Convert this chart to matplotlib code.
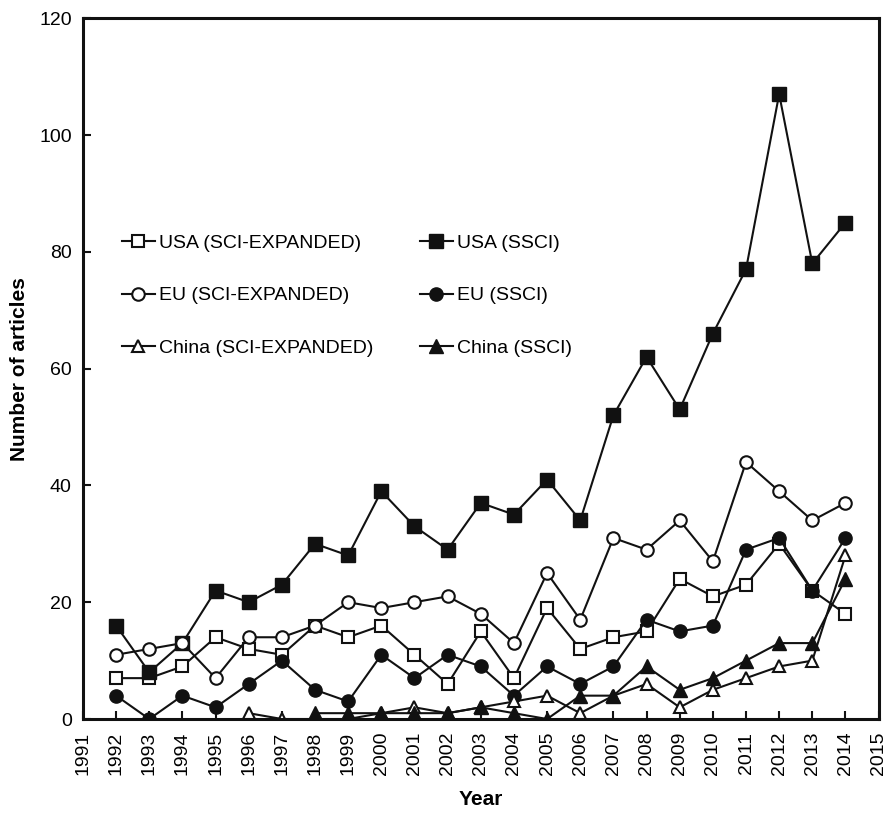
import matplotlib
matplotlib.use("Agg")
import matplotlib.pyplot as plt

plt.rcParams['font.family'] = ['Liberation Sans', 'DejaVu Sans']

years = list(range(1992, 2015))
usa_sci = [7, 7, 9, 14, 12, 11, 16, 14, 16, 11, 6, 15, 7, 19, 12, 14, 15, 24, 21, 23, 30, 22, 18]
usa_ssci = [16, 8, 13, 22, 20, 23, 30, 28, 39, 33, 29, 37, 35, 41, 34, 52, 62, 53, 66, 77, 107, 78, 85]
eu_sci = [11, 12, 13, 7, 14, 14, 16, 20, 19, 20, 21, 18, 13, 25, 17, 31, 29, 34, 27, 44, 39, 34, 37]
eu_ssci = [4, 0, 4, 2, 6, 10, 5, 3, 11, 7, 11, 9, 4, 9, 6, 9, 17, 15, 16, 29, 31, 22, 31]
china_sci_years = list(range(1996, 2015))
china_sci = [1, 0, 0, 0, 1, 2, 1, 2, 3, 4, 1, 4, 6, 2, 5, 7, 9, 10, 28]
china_ssci_years = list(range(1998, 2015))
china_ssci = [1, 1, 1, 1, 1, 2, 1, 0, 4, 4, 9, 5, 7, 10, 13, 13, 24]

fig = plt.figure(figsize=(8.92, 8.13), dpi=100)
ax = fig.add_axes([0.093, 0.1156, 0.892, 0.862])

k = '#111111'
lw = 1.5
h1, = ax.plot(years, usa_sci, '-s', color=k, mfc='white', mec=k, mew=1.5, lw=lw, ms=9, label='USA (SCI-EXPANDED)')
h2, = ax.plot(years, usa_ssci, '-s', color=k, mfc=k, mec=k, lw=lw, ms=9.5, label='USA (SSCI)')
h3, = ax.plot(years, eu_sci, '-o', color=k, mfc='white', mec=k, mew=1.5, lw=lw, ms=9, label='EU (SCI-EXPANDED)')
h4, = ax.plot(years, eu_ssci, '-o', color=k, mfc=k, mec=k, lw=lw, ms=9.5, label='EU (SSCI)')
h5, = ax.plot(china_sci_years, china_sci, '-^', color=k, mfc='white', mec=k, mew=1.5, lw=lw, ms=9, label='China (SCI-EXPANDED)')
h6, = ax.plot(china_ssci_years, china_ssci, '-^', color=k, mfc=k, mec=k, lw=lw, ms=9.5, label='China (SSCI)')

ax.set_xlim(1991, 2015)
ax.set_ylim(0, 120)
ax.set_xticks(range(1991, 2016))
ax.set_xticklabels([str(y) for y in range(1991, 2016)], rotation=90, fontsize=14)
ax.set_yticks(range(0, 121, 20))
ax.tick_params(axis='y', labelsize=14, pad=8)
ax.tick_params(axis='x', pad=9)
ax.tick_params(direction='in', length=6, width=1.5, color=k)
for s in ax.spines.values():
    s.set_linewidth(2.2)
    s.set_color(k)

ax.set_xlabel('Year', fontsize=15, fontweight='bold', labelpad=11)
ax.set_ylabel('Number of articles', fontsize=15, fontweight='bold', labelpad=7)

handles = [h1, h3, h5, h2, h4, h6]
ax.legend(handles=handles, labels=[h.get_label() for h in handles], ncol=2,
          loc='upper left', bbox_to_anchor=(0.039, 0.703), frameon=False,
          fontsize=14, labelspacing=1.8, handlelength=1.7, handletextpad=0.2,
          columnspacing=2.4, borderaxespad=0)

fig.savefig('out.png', dpi=100)
